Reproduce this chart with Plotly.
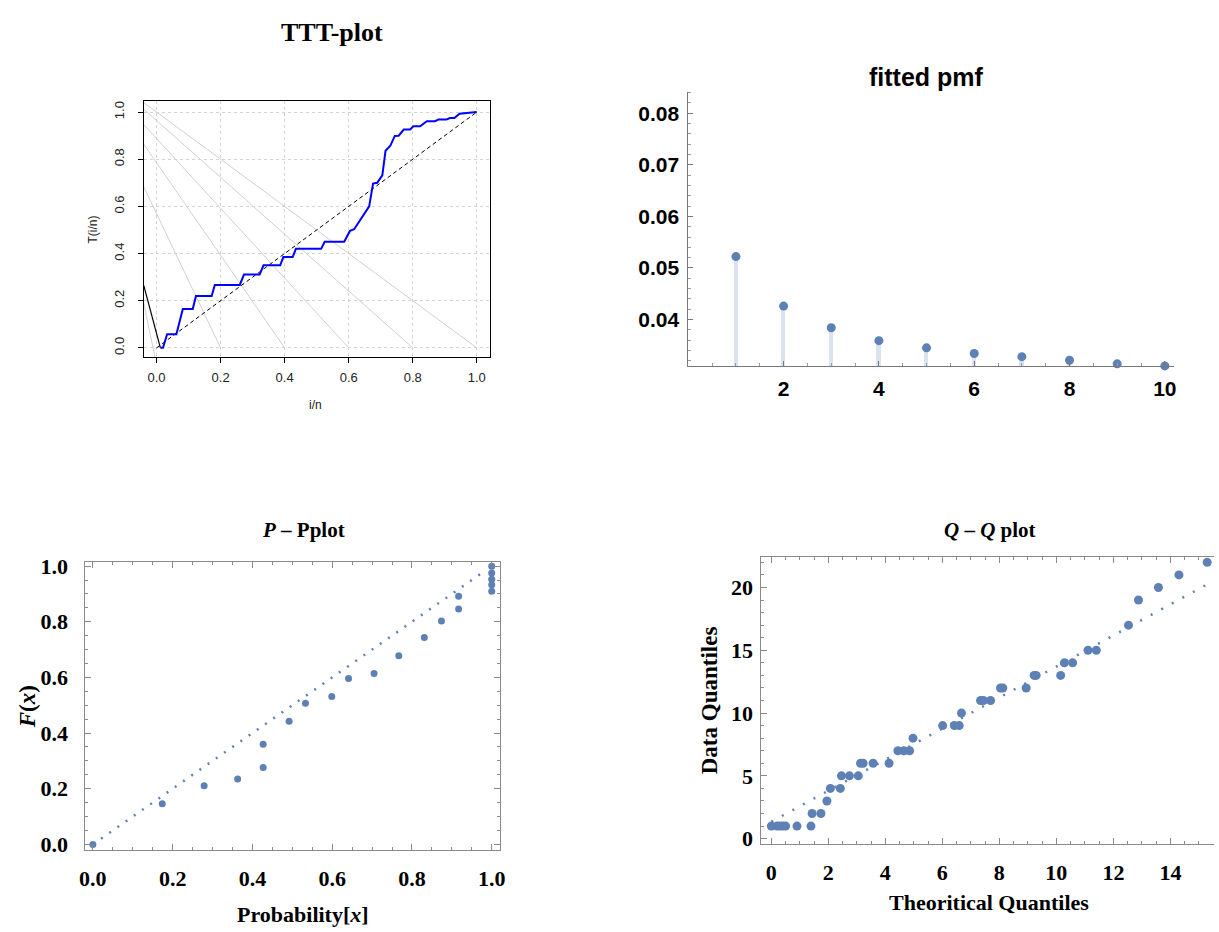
import plotly.graph_objects as go

W, H = 1219, 932

# ---------------- TTT plot data ----------------
ttt_x = [0.012, 0.02, 0.033, 0.062, 0.082, 0.113, 0.123, 0.172, 0.182, 0.26, 0.273, 0.322,
         0.334, 0.386, 0.396, 0.425, 0.435, 0.514, 0.525, 0.586, 0.604, 0.617, 0.664, 0.676,
         0.689, 0.705, 0.715, 0.73, 0.744, 0.756, 0.772, 0.792, 0.802, 0.823, 0.844, 0.869,
         0.88, 0.905, 0.916, 0.93, 0.946, 0.962, 1.0]
ttt_y = [0.0, 0.0, 0.058, 0.058, 0.165, 0.165, 0.22, 0.22, 0.267, 0.267, 0.311, 0.311,
         0.35, 0.35, 0.385, 0.385, 0.42, 0.42, 0.45, 0.45, 0.496, 0.503, 0.6, 0.697,
         0.70, 0.732, 0.836, 0.857, 0.899, 0.90, 0.926, 0.926, 0.94, 0.94, 0.961, 0.961,
         0.968, 0.968, 0.975, 0.975, 0.993, 0.996, 1.0]
ttt_diag_x = [0.0, 1.0]
ttt_diag_y = [0.0, 1.0]
ttt_ref_start_x = [-0.04, -0.04, -0.04, -0.04, -0.04, -0.04]
ttt_ref_start_y = [1.04, 1.0125, 0.947, 0.864, 0.683, 0.19]
ttt_ref_end_x = [1.0, 0.8, 0.6, 0.4, 0.2, -0.005]
ttt_ref_end_y = [0.0, 0.0, 0.0, 0.0, 0.0, -0.04]
ttt_black_x = [-0.04, 0.012]
ttt_black_y = [0.265, 0.0]
ttt_ticks = [0.0, 0.2, 0.4, 0.6, 0.8, 1.0]

# ---------------- fitted pmf data ----------------
pmf_x = [1, 2, 3, 4, 5, 6, 7, 8, 9, 10]
pmf_y = [0.0522, 0.0426, 0.0384, 0.0359, 0.0345, 0.0334, 0.0328, 0.0321, 0.0314, 0.0310]
pmf_base = 0.0309
pmf_xticks = [2, 4, 6, 8, 10]
pmf_yticks = [0.04, 0.05, 0.06, 0.07, 0.08]

# ---------------- P-P plot data ----------------
pp_x = [0.0, 0.174, 0.279, 0.363, 0.427, 0.427, 0.492, 0.533, 0.599, 0.641, 0.705, 0.767,
        0.831, 0.874, 0.917, 0.917, 1.0, 1.0, 1.0, 1.0, 1.0]
pp_y = [0.0, 0.146, 0.211, 0.235, 0.276, 0.36, 0.442, 0.507, 0.531, 0.596, 0.614, 0.678,
        0.743, 0.803, 0.846, 0.892, 0.910, 0.933, 0.953, 0.975, 0.999]
pp_line_x = [0.0, 0.985]
pp_line_y = [0.0, 0.985]
pp_ticks = [0.0, 0.2, 0.4, 0.6, 0.8, 1.0]

# ---------------- Q-Q plot data ----------------
qq_x = [0.0, 0.2, 0.3, 0.4, 0.5, 0.9, 1.39, 1.43, 1.74, 1.95, 2.07, 2.42, 2.46, 2.74, 3.05,
        3.13, 3.22, 3.57, 4.13, 4.44, 4.65, 4.85, 4.97, 6.01, 6.42, 6.59, 6.67, 7.34, 7.44,
        7.69, 8.04, 8.12, 8.94, 9.22, 9.29, 10.15, 10.28, 10.57, 11.11, 11.4, 12.53, 12.88,
        13.58, 14.3, 15.29]
qq_y = [1, 1, 1, 1, 1, 1, 1, 2, 2, 3, 4, 4, 5, 5, 5,
        6, 6, 6, 6, 7, 7, 7, 8, 9, 9, 9, 10, 11, 11,
        11, 12, 12, 12, 13, 13, 13, 14, 14, 15, 15, 17, 19,
        20, 21, 22]
qq_line_x = [0.0, 15.5]
qq_line_y = [1.35, 20.5]
qq_xticks = [0, 2, 4, 6, 8, 10, 12, 14]
qq_yticks = [0, 5, 10, 15, 20]

MBLUE = "rgb(94,129,181)"
STEM = "rgb(218,228,240)"
SANS = "Liberation Sans"
SERIF = "Liberation Serif"
FRAME = "#8a8a8a"


def px_x(p):
    return p / W


def px_y(p):
    return 1 - p / H


fig = go.Figure()

# TTT
for i in range(len(ttt_ref_start_x)):
    fig.add_trace(go.Scatter(x=[ttt_ref_start_x[i], ttt_ref_end_x[i]],
                             y=[ttt_ref_start_y[i], ttt_ref_end_y[i]],
                             mode="lines", line=dict(color="#d0d0d0", width=1),
                             xaxis="x", yaxis="y", hoverinfo="skip"))
fig.add_trace(go.Scatter(x=ttt_black_x, y=ttt_black_y, mode="lines",
                         line=dict(color="black", width=1.2), xaxis="x", yaxis="y"))
fig.add_trace(go.Scatter(x=ttt_diag_x, y=ttt_diag_y, mode="lines",
                         line=dict(color="black", width=1, dash="4px,3px"), xaxis="x", yaxis="y"))
fig.add_trace(go.Scatter(x=ttt_x, y=ttt_y, mode="lines",
                         line=dict(color="blue", width=2), xaxis="x", yaxis="y"))

# PMF
fig.add_trace(go.Bar(x=pmf_x, y=[v - pmf_base for v in pmf_y], base=pmf_base, width=0.09,
                     marker=dict(color=STEM, line=dict(width=0)), xaxis="x2", yaxis="y2"))
fig.add_trace(go.Scatter(x=pmf_x, y=pmf_y, mode="markers", cliponaxis=False,
                         marker=dict(color=MBLUE, size=9), xaxis="x2", yaxis="y2"))

# P-P
fig.add_trace(go.Scatter(x=pp_line_x, y=pp_line_y, mode="lines",
                         line=dict(color=MBLUE, width=2.5, dash="2px,8px"), xaxis="x3", yaxis="y3"))
fig.add_trace(go.Scatter(x=pp_x, y=pp_y, mode="markers", cliponaxis=False,
                         marker=dict(color=MBLUE, size=7), xaxis="x3", yaxis="y3"))

# Q-Q
fig.add_trace(go.Scatter(x=qq_line_x, y=qq_line_y, mode="lines",
                         line=dict(color=MBLUE, width=2.5, dash="2px,10px"), xaxis="x4", yaxis="y4"))
fig.add_trace(go.Scatter(x=qq_x, y=qq_y, mode="markers", cliponaxis=False,
                         marker=dict(color=MBLUE, size=9), xaxis="x4", yaxis="y4"))

ttt_font = dict(family=SANS, size=13, color="#222")
pmf_font = dict(family=SANS, size=21, color="black", weight="bold")
ser_font = dict(family=SERIF, size=22, color="black", weight="bold")

fig.update_layout(
    width=W, height=H, margin=dict(l=0, r=0, t=0, b=0),
    paper_bgcolor="white", plot_bgcolor="white", showlegend=False,
    font=dict(family=SANS),
    xaxis=dict(domain=[px_x(139), px_x(488)], anchor="y", range=[-0.04, 1.04],
               tickvals=ttt_ticks, ticktext=["%.1f" % v for v in ttt_ticks],
               showgrid=True, gridcolor="#d3d3d3", griddash="dot", gridwidth=1,
               showline=True, mirror=True, linecolor="black", linewidth=1,
               ticks="outside", ticklen=5, tickcolor="black", tickfont=ttt_font,
               ticklabelstandoff=3, zeroline=False),
    yaxis=dict(domain=[px_y(355), px_y(95)], anchor="x", range=[-0.04, 1.045],
               tickvals=ttt_ticks, ticktext=["%.1f" % v for v in ttt_ticks], tickangle=-90,
               showgrid=True, gridcolor="#d3d3d3", griddash="dot", gridwidth=1,
               showline=True, mirror=True, linecolor="black", linewidth=1,
               ticks="outside", ticklen=5, tickcolor="black", tickfont=ttt_font,
               ticklabelstandoff=9, zeroline=False),
    xaxis2=dict(domain=[px_x(688.5), px_x(1179)], anchor="y2", range=[0, 10.2],
                tickvals=pmf_xticks, ticktext=[str(v) for v in pmf_xticks],
                showgrid=False, showline=True, linecolor="#777", linewidth=1,
                ticks="inside", ticklen=5, tickcolor="#777", tickfont=pmf_font,
                minor=dict(dtick=0.5, tick0=0, ticks="inside", ticklen=3, tickcolor="#999"),
                ticklabelstandoff=3, zeroline=False),
    yaxis2=dict(domain=[px_y(364.3), px_y(85)], anchor="x2", range=[pmf_base, 0.0842],
                tickvals=pmf_yticks, ticktext=["%.2f" % v for v in pmf_yticks],
                showgrid=False, showline=True, linecolor="#777", linewidth=1,
                ticks="inside", ticklen=5, tickcolor="#777", tickfont=pmf_font,
                minor=dict(dtick=0.002, tick0=0, ticks="inside", ticklen=3, tickcolor="#999"),
                ticklabelstandoff=4, zeroline=False),
    xaxis3=dict(domain=[px_x(80), px_x(499)], anchor="y3", range=[-0.019, 1.022],
                tickvals=pp_ticks, ticktext=["%.1f" % v for v in pp_ticks],
                showgrid=False, showline=True, mirror="ticks", linecolor=FRAME, linewidth=1,
                ticks="inside", ticklen=6, tickcolor=FRAME, tickfont=ser_font,
                minor=dict(dtick=0.05, tick0=0, ticks="inside", ticklen=3, tickcolor=FRAME),
                ticklabelstandoff=8, zeroline=False),
    yaxis3=dict(domain=[px_y(856), px_y(562.7)], anchor="x3", range=[-0.021, 1.016],
                tickvals=pp_ticks, ticktext=["%.1f" % v for v in pp_ticks],
                showgrid=False, showline=True, mirror="ticks", linecolor=FRAME, linewidth=1,
                ticks="inside", ticklen=6, tickcolor=FRAME, tickfont=ser_font,
                minor=dict(dtick=0.05, tick0=0, ticks="inside", ticklen=3, tickcolor=FRAME),
                ticklabelstandoff=12, zeroline=False),
    xaxis4=dict(domain=[px_x(762.3), 1.0], anchor="y4", range=[-0.348, 15.53],
                tickvals=qq_xticks, ticktext=[str(v) for v in qq_xticks],
                showgrid=False, showline=True, mirror="ticks", linecolor=FRAME, linewidth=1,
                ticks="inside", ticklen=6, tickcolor=FRAME, tickfont=ser_font,
                minor=dict(dtick=0.5, tick0=0, ticks="inside", ticklen=3, tickcolor=FRAME),
                ticklabelstandoff=8, zeroline=False),
    yaxis4=dict(domain=[px_y(850), px_y(558.3)], anchor="x4", range=[-0.45, 22.4],
                tickvals=qq_yticks, ticktext=[str(v) for v in qq_yticks],
                showgrid=False, showline=True, mirror=False, linecolor=FRAME, linewidth=1,
                ticks="inside", ticklen=6, tickcolor=FRAME, tickfont=ser_font,
                minor=dict(dtick=1, tick0=0, ticks="inside", ticklen=3, tickcolor=FRAME),
                ticklabelstandoff=3, zeroline=False),
    bargap=0,
)


def ann(text, x, y, font, angle=0):
    fig.add_annotation(text=text, x=px_x(x), y=px_y(y), xref="paper", yref="paper",
                       showarrow=False, font=font, textangle=angle,
                       xanchor="center", yanchor="middle")


ann("TTT-plot", 329, 25, dict(family=SERIF, size=26, color="black", weight="bold"))
ann("T(i/n)", 88, 225, dict(family=SANS, size=12, color="#222"), -90)
ann("i/n", 312, 403, dict(family=SANS, size=12, color="#222"))
ann("fitted pmf", 929, 70, dict(family=SANS, size=25, color="black", weight="bold"))
ann("<i>P</i> \u2013 Pplot", 300, 531, dict(family=SERIF, size=21, color="black", weight="bold"))
ann("<i>F</i>(<i>x</i>)", 22, 710, dict(family=SERIF, size=23, color="black", weight="bold"), -90)
ann("Probability[<i>x</i>]", 300, 921, dict(family=SERIF, size=22, color="black", weight="bold"))
ann("<i>Q</i> \u2013 <i>Q</i> plot", 993, 531, dict(family=SERIF, size=21, color="black", weight="bold"))
ann("Data Quantiles", 710, 704, dict(family=SERIF, size=23, color="black", weight="bold"), -90)
ann("Theoritical Quantiles", 992, 909, dict(family=SERIF, size=22, color="black", weight="bold"))

fig.write_html("out.html", config={"displayModeBar": False},
               post_script="document.body.style.margin='0px';document.body.style.overflow='hidden';")
